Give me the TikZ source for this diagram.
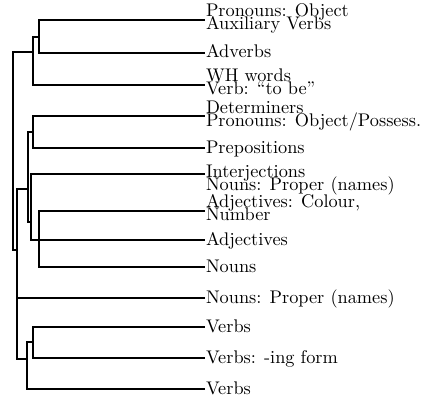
\documentclass[tikz,border=0pt]{standalone}
\usepackage{graphicx}
\newcommand\onel[1]{\scalebox{1.83}{#1}}
\newcommand\twol[2]{\scalebox{1.83}{\vtop{\baselineskip=6.9pt\lineskiplimit=-20pt\lineskip=0pt\hbox{#1}\hbox{#2}}}}
\tikzset{
  br/.style={line width=1.9pt, line cap=rect, line join=miter},
  lab/.style={anchor=base west, inner sep=0pt, outer sep=0pt}
}
\begin{document}
\begin{tikzpicture}[x=1pt,y=-1pt]
\useasboundingbox (0,0) rectangle (424,398);
% leaf ends
\coordinate (e1) at (204,20);
\coordinate (e2) at (204,53);
\coordinate (e3) at (204,85);
\coordinate (e4) at (204,116);
\coordinate (e5) at (204,148);
\coordinate (e6) at (204,174);
\coordinate (e7) at (204,211);
\coordinate (e8) at (204,240);
\coordinate (e9) at (204,267);
\coordinate (e10) at (204,298);
\coordinate (e11) at (204,327);
\coordinate (e12) at (204,358);
\coordinate (e13) at (204,389);
% internal points
\coordinate (a1) at (39,20);
\coordinate (a2) at (39,53);
\coordinate (a12) at (39,37);
\coordinate (b12) at (33,37);
\coordinate (b3) at (33,85);
\coordinate (bA) at (33,52);
\coordinate (rA) at (13,52);
\coordinate (rB) at (13,250);
\coordinate (sB) at (17,250);
\coordinate (sT) at (17,189);
\coordinate (sM) at (17,298);
\coordinate (sL) at (17,359);
\coordinate (c1) at (28,189);
\coordinate (cT) at (28,132);
\coordinate (cB) at (28,222);
\coordinate (d45) at (33,132);
\coordinate (d4) at (33,116);
\coordinate (d5) at (33,148);
\coordinate (f6) at (31,174);
\coordinate (fB) at (31,222);
\coordinate (f8) at (31,240);
\coordinate (g7) at (39,211);
\coordinate (g9) at (39,267);
\coordinate (h1) at (27,359);
\coordinate (hT) at (27,342);
\coordinate (h13) at (27,389);
\coordinate (k) at (33,342);
\coordinate (k11) at (33,327);
\coordinate (k12) at (33,358);
% branches
\draw[br] (e1) -- (a1) -- (a2) -- (e2);
\draw[br] (a12) -- (b12) -- (b3) -- (e3);
\draw[br] (bA) -- (rA) -- (rB) -- (sB);
\draw[br] (sT) -- (sL);
\draw[br] (sT) -- (c1);
\draw[br] (cT) -- (cB) -- (fB);
\draw[br] (cT) -- (d45);
\draw[br] (e4) -- (d4) -- (d5) -- (e5);
\draw[br] (e6) -- (f6) -- (f8) -- (e8);
\draw[br] (e7) -- (g7) -- (g9) -- (e9);
\draw[br] (sM) -- (e10);
\draw[br] (sL) -- (h1);
\draw[br] (hT) -- (h13) -- (e13);
\draw[br] (hT) -- (k);
\draw[br] (e11) -- (k11) -- (k12) -- (e12);
% labels
\node[lab] (t1) at (206,17) {\twol{Pronouns: Object}{Auxiliary Verbs}};
\node[lab] (t2) at (206,58) {\onel{Adverbs}};
\node[lab] (t3) at (206,82) {\twol{WH words}{Verb: ``to be''}};
\node[lab] (t4) at (206,114) {\twol{Determiners}{Pronouns: Object/Possess.}};
\node[lab] (t5) at (206,154) {\onel{Prepositions}};
\node[lab] (t6) at (206,178) {\twol{Interjections}{Nouns: Proper (names)}};
\node[lab] (t7) at (206,208) {\twol{Adjectives: Colour,}{Number}};
\node[lab] (t8) at (206,246) {\onel{Adjectives}};
\node[lab] (t9) at (206,273) {\onel{Nouns}};
\node[lab] (t10) at (206,304) {\onel{Nouns: Proper (names)}};
\node[lab] (t11) at (206,333) {\onel{Verbs}};
\node[lab] (t12) at (206,364) {\onel{Verbs: -ing form}};
\node[lab] (t13) at (206,395) {\onel{Verbs}};
\end{tikzpicture}
\end{document}
